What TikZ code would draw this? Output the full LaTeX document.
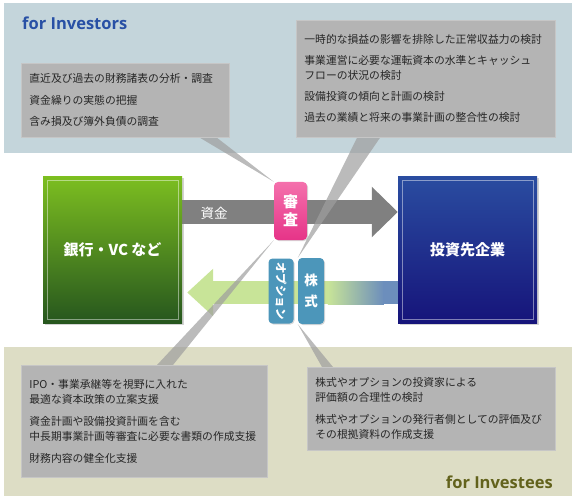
\documentclass[tikz,border=0pt]{standalone}
\usepackage{fontspec}
\setmainfont{Open Sans}
\newfontfamily\jp{Noto Sans CJK JP}
\usetikzlibrary{positioning, shadows, arrows.meta}

\definecolor{investorbg}{RGB}{196,213,219}
\definecolor{investeebg}{RGB}{221,221,197}
\definecolor{investorblue}{RGB}{40,80,165}
\definecolor{investeeolive}{RGB}{98,98,28}
\definecolor{notegray}{RGB}{180,180,180}
\definecolor{noteedge}{RGB}{198,198,198}
\definecolor{banktop}{RGB}{124,190,32}
\definecolor{bankbottom}{RGB}{38,86,30}
\definecolor{firmtop}{RGB}{42,76,160}
\definecolor{firmbottom}{RGB}{22,20,122}
\definecolor{fundgray}{RGB}{128,128,128}
\definecolor{returngreen}{RGB}{200,228,152}
\definecolor{returnblue}{RGB}{108,142,188}
\definecolor{reviewtop}{RGB}{244,112,172}
\definecolor{reviewbottom}{RGB}{230,52,136}
\definecolor{tagblue}{RGB}{76,150,186}

\pgfdeclarelayer{panel}
\pgfdeclarelayer{flow}
\pgfdeclarelayer{pointer}
\pgfsetlayers{panel,flow,pointer,main}

\begin{document}
\begin{tikzpicture}[
    x=1pt, y=-1pt,
    party/.style={minimum width=139pt, minimum height=146pt, inner sep=0pt, text=white,
        font=\jp\bfseries\fontsize{15}{18}\selectfont,
        drop shadow={opacity=0.35, shadow xshift=1.5pt, shadow yshift=-1.5pt}},
    innerline/.style={draw=white, draw opacity=0.45, line width=0.6pt},
    note/.style={anchor=north west, fill=notegray, draw=noteedge, line width=0.8pt,
        inner xsep=8pt, inner ysep=0pt, align=left, text=black!85,
        font=\jp\fontsize{10.8}{15}\selectfont},
    bandtitle/.style={inner sep=0pt, font=\bfseries\fontsize{16.5}{20}\selectfont},
    tail/.style={fill=notegray!88!black, fill opacity=0.7},
    tag/.style={rounded corners=4pt, inner sep=0pt, text=white, align=center,
        drop shadow={opacity=0.3, shadow xshift=1pt, shadow yshift=-1pt}},
    fundarrow/.style={draw=fundgray, line width=24pt, -{Triangle[length=26pt, width=49pt]}},
    stockarrow/.style={draw=returngreen, line width=23pt, shorten >=5pt,
        -{Triangle[length=26pt, width=46pt]}}
]
\useasboundingbox (0,0) rectangle (576,500);

% panels
\begin{pgfonlayer}{panel}
    \fill[investorbg] (4,3) rectangle (572,153);
    \fill[investeebg] (4,347) rectangle (572,496);
\end{pgfonlayer}

\node[bandtitle, text=investorblue, anchor=west] (investors) at (22,23) {for Investors};
\node[bandtitle, text=investeeolive, anchor=east] (investees) at (553,482) {for Investees};

% parties
\node[party, top color=banktop, bottom color=bankbottom] (bank) at (112.5,250) {銀行・VC など};
\node[party, top color=firmtop, bottom color=firmbottom] (firm) at (467.5,250) {投資先企業};
\draw[innerline] ([shift={(4pt,-4pt)}]bank.north west) rectangle ([shift={(-4pt,4pt)}]bank.south east);
\draw[innerline] ([shift={(4pt,-4pt)}]firm.north west) rectangle ([shift={(-4pt,4pt)}]firm.south east);

% notes
\node[note, text width=192pt, minimum height=74pt] (checklist) at (21,63)
    {直近及び過去の財務諸表の分析・調査\\[6.5pt]
     資金繰りの実態の把握\\[6.5pt]
     含み損及び簿外負債の調査};
\node[note, text width=243pt, minimum height=117pt] (earnings) at (296,20)
    {一時的な損益の影響を排除した正常収益力の検討\\[6pt]
     事業運営に必要な運転資本の水準とキャッシュ\\
     フローの状況の検討\\[6pt]
     設備投資の傾向と計画の検討\\[6pt]
     過去の業績と将来の事業計画の整合性の検討};
\node[note, text width=230pt, minimum height=112pt] (support) at (21,365)
    {IPO・事業承継等を視野に入れた\\
     最適な資本政策の立案支援\\[7pt]
     資金計画や設備投資計画を含む\\
     中長期事業計画等審査に必要な書類の作成支援\\[7pt]
     財務内容の健全化支援};
\node[note, text width=232pt, minimum height=83pt] (valuation) at (307,367)
    {株式やオプションの投資家による\\
     評価額の合理性の検討\\[7pt]
     株式やオプションの発行者側としての評価及び\\
     その根拠資料の作成支援};

% tags
\node[tag, top color=reviewtop, bottom color=reviewbottom, minimum width=33pt, minimum height=58pt,
    font=\jp\bfseries\fontsize{15}{18}\selectfont] (review) at (290.5,211) {審\\査};
\node[tag, fill=tagblue, minimum width=26pt, minimum height=66pt,
    font=\jp\bfseries\fontsize{13.5}{21}\selectfont] (stock) at (311,291) {株\\式};
\node[tag, fill=tagblue, rotate=-90, minimum width=65pt, minimum height=25pt,
    font=\jp\bfseries\fontsize{11.5}{12}\selectfont] (option) at (281,291) {オプション};

\node[text=white, inner sep=0pt, font=\jp\fontsize{13.5}{16}\selectfont] (fund) at (214,213) {資金};

% flows
\begin{pgfonlayer}{flow}
    \draw[fundarrow] ([yshift=38pt]bank.east) -- ([yshift=38pt]firm.west);
    \draw[stockarrow] ([yshift=-42.5pt]firm.west) -- ([yshift=-42.5pt]bank.east);
    \shade[left color=returngreen, right color=returnblue]
        ([shift={(-70pt,-31pt)}]firm.west) rectangle ([shift={(-14pt,-54pt)}]firm.west);
    \fill[returnblue] ([shift={(-14.5pt,-31pt)}]firm.west) rectangle ([shift={(0pt,-54pt)}]firm.west);
\end{pgfonlayer}

% pointers
\begin{pgfonlayer}{pointer}
    \fill[tail] ([xshift=179pt]checklist.south west) -- ([xshift=196pt]checklist.south west) -- (review.north west) -- cycle;
    \fill[tail] ([xshift=61pt]earnings.south west) -- ([xshift=84pt]earnings.south west) -- (stock.north west) -- cycle;
    \fill[tail] ([xshift=136pt]support.north west) -- ([xshift=152pt]support.north west) -- (review.south west) -- cycle;
    \fill[tail] ([xshift=15pt]valuation.north west) -- ([xshift=26pt]valuation.north west) -- (stock.south west) -- cycle;
\end{pgfonlayer}

\end{tikzpicture}
\end{document}
